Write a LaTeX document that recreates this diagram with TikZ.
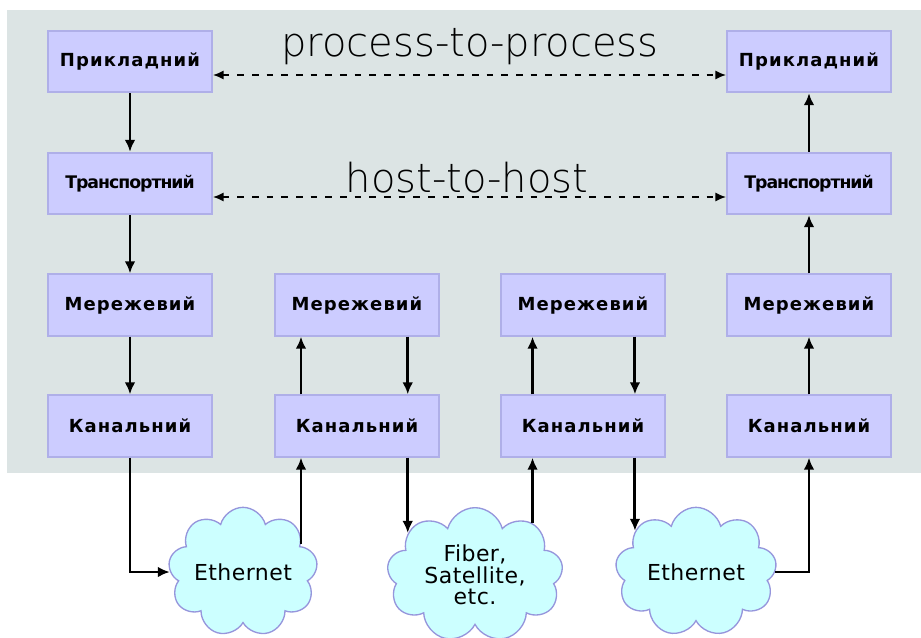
\documentclass[tikz,border=0pt]{standalone}
\usepackage{fontspec}
\setmainfont{DejaVu Sans}
\newfontfamily\layerfont[LetterSpace=6]{DejaVu Sans Bold}
\newfontfamily\narrowfont[LetterSpace=-6]{DejaVu Sans Bold}
\newfontfamily\mediafont[LetterSpace=2]{DejaVu Sans}
\IfFontExistsTF{DejaVu Sans ExtraLight}{\newfontfamily\thinfont{DejaVu Sans ExtraLight}}{\newfontfamily\thinfont{DejaVu Sans}}
\usetikzlibrary{arrows.meta,shapes.symbols}
\definecolor{panelgrey}{RGB}{220,228,228}
\definecolor{layerfill}{RGB}{204,204,255}
\definecolor{layerline}{RGB}{175,175,232}
\definecolor{cloudfill}{RGB}{204,255,255}
\definecolor{cloudline}{RGB}{150,150,220}
\begin{document}
\begin{tikzpicture}[x=0.75pt, y=0.75pt, yscale=-1,
  layerbox/.style={draw=layerline, line width=1.5pt, fill=layerfill, minimum width=123pt, minimum height=46pt, inner sep=0pt, font=\layerfont\fontsize{13.5}{15}\selectfont},
  trbox/.style={layerbox, font=\narrowfont\fontsize{13}{15}\selectfont},
  netcloud/.style={cloud, cloud puffs=9, cloud ignores aspect, draw=cloudline, line width=1pt, fill=cloudfill, font=\mediafont\fontsize{16.5}{16}\selectfont, align=center, inner sep=0pt},
  flowarrow/.style={line width=2.2pt, -{Latex[length=9pt,width=8pt]}},
  peer/.style={line width=1.4pt, dash pattern=on 5pt off 6pt, {Latex[length=8pt,width=7pt]}-{Latex[length=8pt,width=7pt]}},
  tag/.style={font=\thinfont\fontsize{30}{31}\selectfont, anchor=base}]
  \useasboundingbox (0,0) rectangle (921,637);
  \fill[panelgrey] (7,10) rectangle (921,473);

  % host A
  \node[layerbox] (app1) at (130,61.5) {Прикладний};
  \node[trbox] (tr1) at (130,183.5) {Транспортний};
  \node[layerbox] (net1) at (130,305) {Мережевий};
  \node[layerbox] (link1) at (130,426) {Канальний};
  % routers
  \node[layerbox] (net2) at (357,305) {Мережевий};
  \node[layerbox] (link2) at (357,426) {Канальний};
  \node[layerbox] (net3) at (583,305) {Мережевий};
  \node[layerbox] (link3) at (583,426) {Канальний};
  % host B
  \node[layerbox] (app4) at (809,61.5) {Прикладний};
  \node[trbox] (tr4) at (809,183.5) {Транспортний};
  \node[layerbox] (net4) at (809,305) {Мережевий};
  \node[layerbox] (link4) at (809,426) {Канальний};

  % media
  \node[netcloud, minimum width=112pt, minimum height=97pt] (eth1) at (243,572) {Ethernet};
  \node[netcloud, minimum width=132pt, minimum height=101pt] (fiber) at (475,575) {Fiber,\\Satellite,\\etc.};
  \node[netcloud, minimum width=121pt, minimum height=97pt] (eth2) at (696,572) {Ethernet};

  \node[tag] (p2p) at (470,56) {process-to-process};
  \node[tag] (h2h) at (467,192) {host-to-host};

  \draw[peer] (app1.east |- 0,75) -- (app4.west |- 0,75);
  \draw[peer] (tr1.east |- 0,197) -- (tr4.west |- 0,197);

  \draw[flowarrow] (app1) -- (tr1);
  \draw[flowarrow] (tr1) -- (net1);
  \draw[flowarrow] (net1) -- (link1);
  \draw[flowarrow] (link1) |- (eth1);
  \draw[flowarrow] (eth1.26) -- (eth1.26 |- link2.south);
  \draw[flowarrow] (link2.north -| eth1.26) -- (net2.south -| eth1.26);
  \draw[flowarrow] (net2.south -| fiber.148) -- (link2.north -| fiber.148);
  \draw[flowarrow] (link2.south -| fiber.148) -- (fiber.148);
  \draw[flowarrow] (fiber.42) -- (fiber.42 |- link3.south);
  \draw[flowarrow] (link3.north -| fiber.42) -- (net3.south -| fiber.42);
  \draw[flowarrow] (net3.south -| eth2.146) -- (link3.north -| eth2.146);
  \draw[flowarrow] (link3.south -| eth2.146) -- (eth2.146);
  \draw[flowarrow] (eth2) -| (link4);
  \draw[flowarrow] (link4) -- (net4);
  \draw[flowarrow] (net4) -- (tr4);
  \draw[flowarrow] (tr4) -- (app4);
\end{tikzpicture}
\end{document}
